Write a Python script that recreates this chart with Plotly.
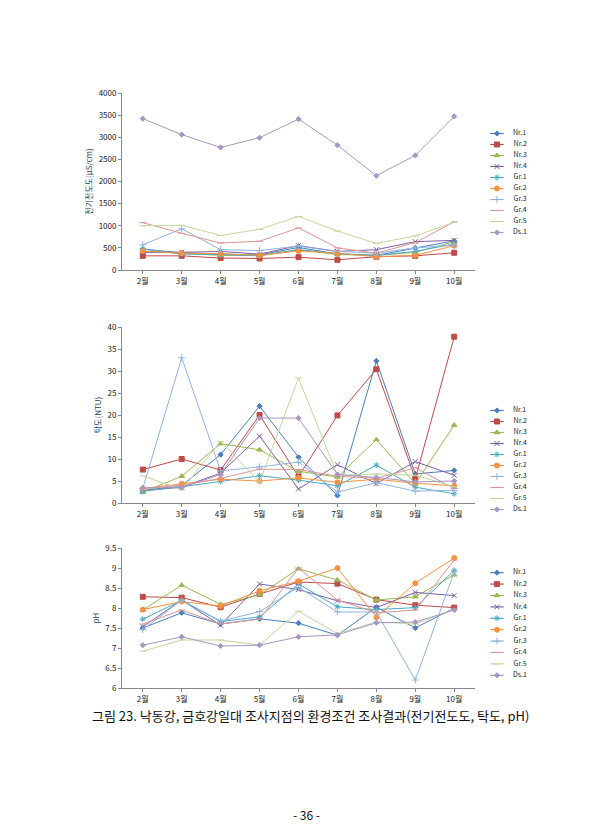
import plotly.graph_objects as go

months = ["2월","3월","4월","5월","6월","7월","8월","9월","10월"]
names = ["Nr.1","Nr.2","Nr.3","Nr.4","Gr.1","Gr.2","Gr.3","Gr.4","Gr.5","Ds.1"]

ec_nr1 = [470,390,360,340,510,360,330,500,660]
ec_nr2 = [320,320,270,260,290,230,300,320,390]
ec_nr3 = [420,370,330,330,460,350,330,400,640]
ec_nr4 = [400,400,420,360,550,420,460,640,670]
ec_gr1 = [480,360,350,320,460,370,330,420,590]
ec_gr2 = [430,380,370,330,430,380,300,330,550]
ec_gr3 = [570,930,460,440,540,420,380,500,560]
ec_gr4 = [1070,830,610,650,950,500,380,620,1090]
ec_gr5 = [1000,1010,780,920,1210,880,600,770,1080]
ec_ds1 = [3420,3060,2770,2990,3410,2820,2130,2590,3470]

tb_nr1 = [2.8,4,11,22,10.4,1.7,32.3,6.6,7.4]
tb_nr2 = [7.6,10,7.5,20,6,19.9,30.4,5.5,37.8]
tb_nr3 = [2.4,6.1,13.5,12.1,7.2,5.9,14.4,4.4,17.7]
tb_nr4 = [2.8,3.6,6.8,15.2,3.2,8.7,4.4,9.4,6.3]
tb_gr1 = [2.7,3.7,4.9,6.2,5.2,3.9,8.6,3.6,2.1]
tb_gr2 = [3.3,4.4,5.4,5,5.7,4.7,5.4,4.5,3.9]
tb_gr3 = [3.3,33,7.3,8.2,9.3,2.5,4.6,2.7,2.9]
tb_gr4 = [3.3,4,5.6,7.7,7.6,6.1,5.6,8,3.3]
tb_gr5 = [6.2,3,14,4.8,28.4,6.3,6.6,6.3,3.7]
tb_ds1 = [3.4,3.5,6.5,19.3,19.3,6.5,5.8,4.8,5]

ph_nr1 = [7.5,7.88,7.6,7.73,7.62,7.32,8.02,7.5,8.0]
ph_nr2 = [8.28,8.26,8.02,8.35,8.65,8.61,8.21,8.07,8.01]
ph_nr3 = [7.95,8.57,8.09,8.33,8.98,8.7,8.2,8.28,8.83]
ph_nr4 = [7.53,8.2,7.57,8.6,8.46,8.18,8.01,8.39,8.31]
ph_gr1 = [7.72,8.19,7.66,7.78,8.6,8.03,7.96,8.01,8.94]
ph_gr2 = [7.96,8.16,8.05,8.43,8.67,9.0,7.77,8.62,9.25]
ph_gr3 = [7.46,8.2,7.67,7.91,8.52,7.9,7.9,6.2,8.9]
ph_gr4 = [7.6,7.95,7.6,7.72,9.0,8.2,7.88,7.95,9.2]
ph_gr5 = [6.92,7.2,7.2,7.07,7.92,7.36,7.65,7.6,7.97]
ph_ds1 = [7.07,7.28,7.05,7.07,7.28,7.33,7.63,7.65,7.95]

ec = [ec_nr1,ec_nr2,ec_nr3,ec_nr4,ec_gr1,ec_gr2,ec_gr3,ec_gr4,ec_gr5,ec_ds1]
tb = [tb_nr1,tb_nr2,tb_nr3,tb_nr4,tb_gr1,tb_gr2,tb_gr3,tb_gr4,tb_gr5,tb_ds1]
ph = [ph_nr1,ph_nr2,ph_nr3,ph_nr4,ph_gr1,ph_gr2,ph_gr3,ph_gr4,ph_gr5,ph_ds1]

colors = ["#4A7EBB","#BE4B48","#98B954","#7D60A0","#46AAC5","#F69240","#8EB4E3","#D99694","#C3D69B","#A896C4"]
symbols = ["diamond","square","triangle-up","x-thin","asterisk","circle","cross-thin","line-ew","line-ew","diamond"]
sizes = [4,5,5,5,5,5,5,5,5,4]

W, H, OFF = 613, 840, 8
def py(p):
    return 1 - (p - OFF) / H
def px(p):
    return (p - OFF) / W

fig = go.Figure()
font = "Noto Sans CJK KR"
dom_x = [px(122), px(475)]
ydoms = [[py(270), py(93)], [py(503), py(327)], [py(688), py(548)]]
yranges = [[0, 4000], [0, 40], [6, 9.5]]
ydt = [500, 5, 0.5]
ytitles = ["전기전도도(μS/cm)", "탁도(NTU)", "pH"]
ldoms = [[py(238), py(128)], [py(515), py(405)], [py(681), py(567)]]

ax = dict(showgrid=False, showline=True, linecolor="#888", linewidth=1, ticks="outside",
          ticklen=3, tickcolor="#888", tickfont=dict(size=8, family=font, color="#222"), zeroline=False)
hid = dict(visible=False, showgrid=False, zeroline=False, fixedrange=True)
lay = {}
datas = [ec, tb, ph]
for k in range(3):
    s = "" if k == 0 else str(k + 1)
    xa, ya = "x" + s, "y" + s
    for i, n in enumerate(names):
        fig.add_trace(go.Scatter(
            x=months, y=datas[k][i], name=n, mode="lines+markers", xaxis=xa, yaxis=ya,
            showlegend=False,
            line=dict(color=colors[i], width=1),
            marker=dict(symbol=symbols[i], size=sizes[i], color=colors[i],
                        line=dict(color=colors[i], width=1))))
    lay["xaxis" + s] = dict(ax, domain=dom_x, anchor=ya)
    lay["yaxis" + s] = dict(ax, domain=ydoms[k], anchor=xa, range=yranges[k], dtick=ydt[k],
                            title=dict(text=ytitles[k], font=dict(size=8, family=font), standoff=4))
    ls = str(k + 4)
    lxa, lya = "x" + ls, "y" + ls
    lay["xaxis" + ls] = dict(hid, domain=[px(488), px(600)], range=[0, 1], anchor=lya)
    lay["yaxis" + ls] = dict(hid, domain=ldoms[k], range=[0, 10], anchor=lxa)
    for i, n in enumerate(names):
        yy = 9.5 - i
        fig.add_trace(go.Scatter(x=[0.02, 0.14], y=[yy, yy], mode="lines", xaxis=lxa, yaxis=lya,
                                 showlegend=False, hoverinfo="skip",
                                 line=dict(color=colors[i], width=1.2)))
        fig.add_trace(go.Scatter(x=[0.08], y=[yy], mode="markers+text", xaxis=lxa, yaxis=lya,
                                 text=["        " + n], textposition="middle right",
                                 textfont=dict(size=7, family=font, color="#222"),
                                 showlegend=False, hoverinfo="skip",
                                 marker=dict(symbol=symbols[i], size=sizes[i], color=colors[i],
                                             line=dict(color=colors[i], width=1))))
fig.update_layout(**lay)
fig.update_layout(width=W, height=H, margin=dict(l=0, r=0, t=0, b=0, autoexpand=False),
                  plot_bgcolor="white", paper_bgcolor="white", showlegend=False,
                  font=dict(family=font))
fig.add_annotation(text="그림 23. 낙동강, 금호강일대 조사지점의 환경조건 조사결과(전기전도도, 탁도, pH)",
                   x=px(310), y=py(727), xref="paper", yref="paper", showarrow=False,
                   font=dict(size=13, family=font, color="#111"))
fig.add_annotation(text="- 36 -", x=px(306), y=py(825), xref="paper", yref="paper", showarrow=False,
                   font=dict(size=12, family=font, color="#111"))
fig.write_html("out.html")
